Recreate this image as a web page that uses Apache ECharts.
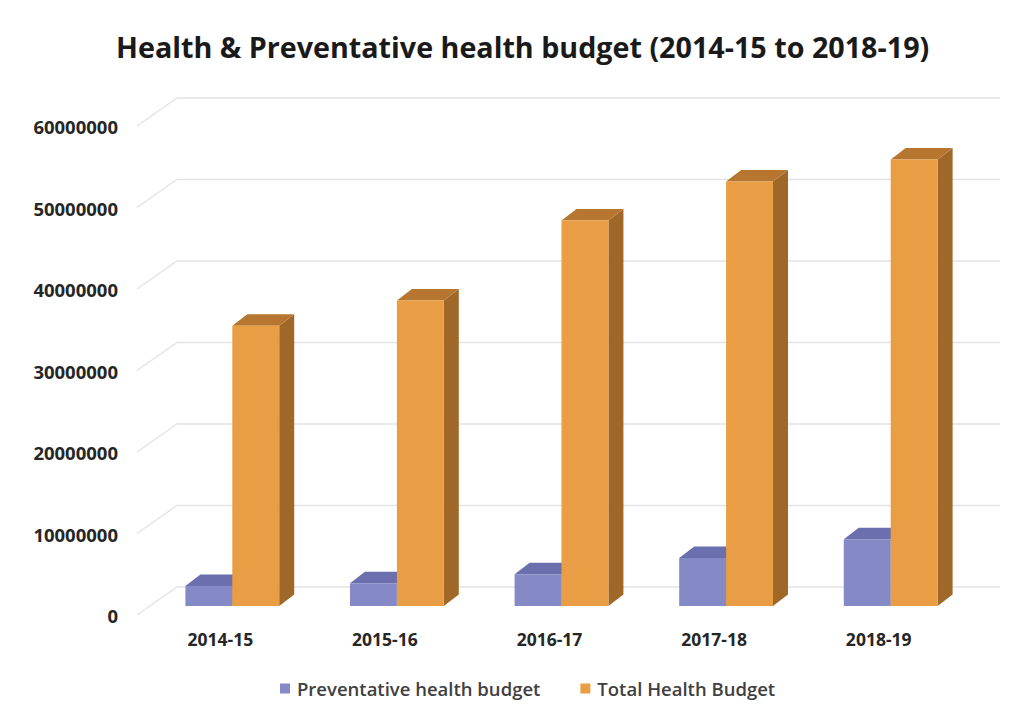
<!DOCTYPE html>
<html>
<head>
<meta charset="utf-8">
<title>Health &amp; Preventative health budget</title>
<script src="https://cdn.jsdelivr.net/npm/echarts@6/dist/echarts.min.js"></script>
<style>
  html, body { margin: 0; padding: 0; background: #ffffff; }
  #chart { width: 1029px; height: 717px; }
</style>
</head>
<body>
<div id="chart"></div>
<script>
// Budget figures by financial year
const categories = ['2014-15', '2015-16', '2016-17', '2017-18', '2018-19'];
const preventativeBudget = [2450000, 2800000, 3900000, 5900000, 8200000];
const totalHealthBudget = [34400000, 37500000, 47300000, 52100000, 54800000];
const yTicks = [0, 10000000, 20000000, 30000000, 40000000, 50000000, 60000000];

const seriesNames = ['Preventative health budget', 'Total Health Budget'];

// Pseudo-3D look: depth offsets of the box tops and of the back wall
const BAR_DEPTH_X = 15;
const BAR_DEPTH_Y = 11.5;
const WALL_BACK_X = 27, WALL_BACK_Y = 19;   // back wall relative to bar plane
const WALL_FRONT_X = -13, WALL_FRONT_Y = 9; // front edge relative to bar plane

const palette = {
  purple: { front: '#8589c5', top: '#6b6fae', side: '#5f6399' },
  orange: { front: '#e99d45', top: '#b6762f', side: '#a06828' }
};

function boxRenderer(side, c) {
  return function (params, api) {
    const idx = api.value(0);
    const val = api.value(1);
    const base = api.coord([idx, 0]);
    const top = api.coord([idx, val]);
    const band = api.size([1, 0])[0];
    const w = band * 0.285;
    const x0 = side < 0 ? base[0] - w : base[0];
    const x1 = x0 + w;
    const yT = top[1], yB = base[1];
    const dx = BAR_DEPTH_X, dy = BAR_DEPTH_Y;
    return {
      type: 'group',
      children: [
        { type: 'polygon', shape: { points: [[x1, yT], [x1 + dx, yT - dy], [x1 + dx, yB - dy], [x1, yB]] },
          style: { fill: c.side } },
        { type: 'polygon', shape: { points: [[x0, yT], [x1, yT], [x1 + dx, yT - dy], [x0 + dx, yT - dy]] },
          style: { fill: c.top } },
        { type: 'rect', shape: { x: x0, y: yT, width: w, height: yB - yT },
          style: { fill: c.front } }
      ]
    };
  };
}

function wallRenderer(params, api) {
  const cs = params.coordSys;
  const y = api.coord([0, api.value(1)])[1];
  return {
    type: 'polyline',
    shape: { points: [
      [cs.x + WALL_FRONT_X, y + WALL_FRONT_Y],
      [cs.x + WALL_BACK_X, y - WALL_BACK_Y],
      [cs.x + cs.width + WALL_BACK_X, y - WALL_BACK_Y]
    ] },
    style: { stroke: '#e4e4e4', lineWidth: 1.5, fill: null }
  };
}

const chart = echarts.init(document.getElementById('chart'), null, { renderer: 'svg' });

chart.setOption({
  animation: false,
  backgroundColor: '#ffffff',
  color: [palette.purple.front, palette.orange.front],
  title: {
    text: 'Health & Preventative health budget (2014-15 to 2018-19)',
    left: 111,
    top: 27,
    textStyle: { fontFamily: 'Open Sans', fontSize: 28.7, fontWeight: 'bold', color: '#1a1a1a' }
  },
  legend: {
    data: seriesNames,
    bottom: 14,
    left: 275,
    icon: 'rect',
    itemWidth: 10,
    itemHeight: 10,
    itemGap: 40,
    textStyle: { fontFamily: 'Open Sans', fontSize: 18.5, fontWeight: 600, color: '#404040', padding: [0, 0, 0, 2] }
  },
  grid: { left: 150, right: 56, top: 117, bottom: 111 },
  xAxis: {
    type: 'category',
    data: categories,
    axisLine: { show: false },
    axisTick: { show: false },
    axisLabel: {
      margin: 24,
      padding: [0, 24, 0, 0],
      fontFamily: 'Open Sans', fontSize: 17.5, fontWeight: 'bold', color: '#262626'
    }
  },
  yAxis: {
    type: 'value',
    min: 0,
    max: 60000000,
    interval: 10000000,
    axisLine: { show: false },
    axisTick: { show: false },
    splitLine: { show: false },
    axisLabel: {
      margin: 32,
      verticalAlign: 'top',
      formatter: v => String(v),
      fontFamily: 'Open Sans', fontSize: 18.5, fontWeight: 'bold', color: '#262626'
    }
  },
  series: [
    {
      type: 'custom',
      name: 'walls',
      silent: true,
      z: 1,
      renderItem: wallRenderer,
      data: yTicks.map(v => [0, v]),
      encode: { x: 0, y: 1 }
    },
    {
      type: 'custom',
      name: seriesNames[0],
      z: 2,
      itemStyle: { color: palette.purple.front },
      renderItem: boxRenderer(-1, palette.purple),
      data: preventativeBudget.map((v, i) => [i, v]),
      encode: { x: 0, y: 1 }
    },
    {
      type: 'custom',
      name: seriesNames[1],
      z: 3,
      itemStyle: { color: palette.orange.front },
      renderItem: boxRenderer(1, palette.orange),
      data: totalHealthBudget.map((v, i) => [i, v]),
      encode: { x: 0, y: 1 }
    }
  ]
});
</script>
</body>
</html>
